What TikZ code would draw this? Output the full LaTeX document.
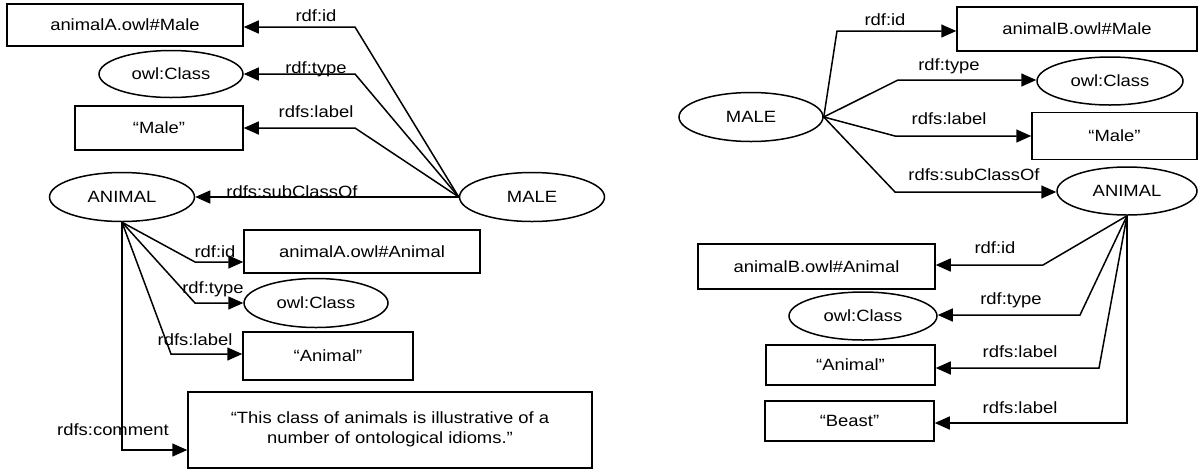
\documentclass[tikz,border=0pt]{standalone}
\usepackage{fontspec}
\setmainfont{Liberation Sans}[FakeStretch=1.13]
\usetikzlibrary{arrows.meta,shapes.geometric}
\begin{document}
\begin{tikzpicture}[x=1pt,y=-1pt,
  every node/.style={font=\fontsize{16.3}{20}\selectfont},
  thing/.style={draw, line width=1.5pt, inner sep=0pt},
  rbox/.style={thing, rectangle},
  ell/.style={thing, ellipse},
  conn/.style={line width=1.5pt, -{Triangle[length=15pt,width=13pt]}},
  lbl/.style={anchor=base, inner sep=0pt}]
\useasboundingbox (0,0) rectangle (1200,475);

% ---------------- left diagram ----------------
\node[rbox, minimum width=236pt, minimum height=42pt] (mAid)  at (125,25)  {animalA.owl\#Male};
\node[ell,  minimum width=144pt, minimum height=47pt] (mAcls) at (171,74)  {owl:Class};
\node[rbox, minimum width=168pt, minimum height=44pt] (mAlab) at (159,128) {“Male”};
\node[ell,  minimum width=145pt, minimum height=49pt] (aA)    at (122,197) {ANIMAL};
\node[ell,  minimum width=145pt, minimum height=49pt] (mA)    at (532,197) {MALE};
\node[rbox, minimum width=236pt, minimum height=43pt] (aAid)  at (362,251.5) {animalA.owl\#Animal};
\node[ell,  minimum width=144pt, minimum height=49pt] (aAcls) at (316,303) {owl:Class};
\node[rbox, minimum width=170pt, minimum height=48pt] (aAlab) at (328,356) {“Animal”};
\node[rbox, minimum width=404pt, minimum height=76pt] (aAcom) at (390,430) {};
\node[align=center, inner sep=0pt] (aAcomtxt) at (390,429)
  {“This class of animals is illustrative of a\\ number of ontological idioms.”};

\coordinate (b1) at (355,27);
\coordinate (b2) at (355,74);
\coordinate (b3) at (355,128);
\coordinate (b5) at (195,262);
\coordinate (b6) at (195,303);
\coordinate (b7) at (171,354);
\coordinate (b8) at (122,450);

\draw[conn] (mA.west) -- (b1) -- (b1 -| mAid.east);
\draw[conn] (mA.west) -- (b2) -- (b2 -| mAcls.east);
\draw[conn] (mA.west) -- (b3) -- (b3 -| mAlab.east);
\draw[conn] (mA.west) -- (aA.east);
\draw[conn] (aA.south) -- (b5) -- (b5 -| aAid.west);
\draw[conn] (aA.south) -- (b6) -- (b6 -| aAcls.west);
\draw[conn] (aA.south) -- (b7) -- (b7 -| aAlab.west);
\draw[conn] (aA.south) -- (b8) -- (b8 -| aAcom.west);

\node[lbl] (l1) at (316,21)  {rdf:id};
\node[lbl] (l2) at (316,73)  {rdf:type};
\node[lbl] (l3) at (316,117) {rdfs:label};
\node[lbl] (l4) at (292,197) {rdfs:subClassOf};
\node[lbl] (l5) at (215,257) {rdf:id};
\node[lbl] (l6) at (213,293) {rdf:type};
\node[lbl] (l7) at (195,345) {rdfs:label};
\node[lbl] (l8) at (113,435) {rdfs:comment};

% ---------------- right diagram ----------------
\node[ell,  minimum width=144pt, minimum height=49pt] (mB)    at (751,117) {MALE};
\node[rbox, minimum width=240pt, minimum height=44pt] (mBid)  at (1077,29) {animalB.owl\#Male};
\node[ell,  minimum width=146pt, minimum height=48pt] (mBcls) at (1110,81) {owl:Class};
\node[rbox, minimum width=165pt, minimum height=47pt] (mBlab) at (1114.5,136) {“Male”};
\node[ell,  minimum width=140pt, minimum height=48pt] (aB)    at (1127,191) {ANIMAL};
\node[rbox, minimum width=237pt, minimum height=45pt] (aBid)  at (816.5,266.5) {animalB.owl\#Animal};
\node[ell,  minimum width=148pt, minimum height=48pt] (aBcls) at (863,316) {owl:Class};
\node[rbox, minimum width=169pt, minimum height=40pt] (aBlab1) at (850.5,365) {“Animal”};
\node[rbox, minimum width=169pt, minimum height=40pt] (aBlab2) at (849.5,421) {“Beast”};

\coordinate (c1) at (837,31);
\coordinate (c2) at (898,80);
\coordinate (c3) at (895,136);
\coordinate (c4) at (895,192);
\coordinate (c5) at (1043,265);
\coordinate (c6) at (1080,315);
\coordinate (c7) at (1099,368);
\coordinate (c8) at (1127,423);

\draw[conn] (mB.east) -- (c1) -- (c1 -| mBid.west);
\draw[conn] (mB.east) -- (c2) -- (c2 -| mBcls.west);
\draw[conn] (mB.east) -- (c3) -- (c3 -| mBlab.west);
\draw[conn] (mB.east) -- (c4) -- (c4 -| aB.west);
\draw[conn] (aB.south) -- (c5) -- (c5 -| aBid.east);
\draw[conn] (aB.south) -- (c6) -- (c6 -| aBcls.east);
\draw[conn] (aB.south) -- (c7) -- (c7 -| aBlab1.east);
\draw[conn] (aB.south) -- (c8) -- (c8 -| aBlab2.east);

\node[lbl] (r1) at (885,25)   {rdf:id};
\node[lbl] (r2) at (949,70)   {rdf:type};
\node[lbl] (r3) at (949,124)  {rdfs:label};
\node[lbl] (r4) at (974,180)  {rdfs:subClassOf};
\node[lbl] (r5) at (995,253)  {rdf:id};
\node[lbl] (r6) at (1011,304) {rdf:type};
\node[lbl] (r7) at (1020,357) {rdfs:label};
\node[lbl] (r8) at (1020,413) {rdfs:label};
\end{tikzpicture}
\end{document}
